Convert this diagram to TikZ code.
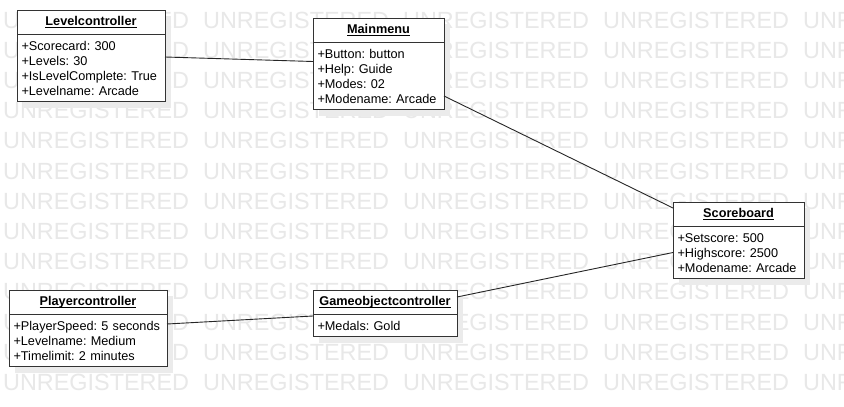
\documentclass[tikz,border=0pt]{standalone}
\usepackage{fontspec}
\setmainfont{Liberation Sans}
\usetikzlibrary{positioning, shadows}
\definecolor{wmgray}{HTML}{E8E8E8}
\definecolor{shadowgray}{HTML}{EBEBEB}
\newcommand{\ulname}[1]{\setbox0\hbox{#1}\rlap{\rule[-2.2pt]{\wd0}{0.9pt}}\box0}
\frenchspacing
\hyphenpenalty=10000
\tikzset{
	objhead/.style={
		rectangle,
		draw=black!80,
		line width=1pt,
		fill=white,
		minimum width=#1,
		minimum height=24.5pt,
		inner sep=0pt,
		outer sep=0pt,
		font=\fontsize{12.7}{15}\selectfont\bfseries,
		drop shadow={shadow xshift=6pt, shadow yshift=-6pt, fill=shadowgray, opacity=1},
	},
	objbody/.style={
		rectangle,
		draw=black!80,
		line width=1pt,
		fill=white,
		text width=#1,
		align=left,
		inner xsep=4.5pt,
		inner ysep=2pt,
		outer sep=0pt,
		font=\fontsize{12.7}{15}\selectfont,
		execute at begin node={\rule{0pt}{13.6pt}},
		execute at end node={\rule[-4.4pt]{0pt}{0pt}},
		drop shadow={shadow xshift=6pt, shadow yshift=-6pt, fill=shadowgray, opacity=1},
	},
	link/.style={
		draw=black!85,
		line width=0.9pt,
	},
	watermark/.style={
		text=wmgray,
		font=\fontsize{23.4}{24}\selectfont,
		anchor=west,
		inner sep=0pt,
	},
}

\begin{document}
\begin{tikzpicture}[x=1pt, y=-1pt]
		\fill[white] (0,0) rectangle (844,407);
		\useasboundingbox (0,0) rectangle (844,407);
		
		% Watermark
		\foreach \row in {0,...,12}
			\foreach \col in {0,...,4}
				\node[watermark] (wm-\row-\col) at ({3+200*\col}, {20+30.2*\row}) {UNREGISTERED};
		
		% Place objects
		\node [objhead=148pt, anchor=north west] (lvl-head) at (17,10) {\ulname{Levelcontroller}};
		\node [objbody=139pt, below=0pt of lvl-head] (lvl-body) {+Scorecard: 300\\+Levels: 30\\+IsLevelComplete: True\\+Levelname: Arcade};
		
		\node [objhead=131pt, anchor=north west] (main-head) at (313,18) {\ulname{Mainmenu}};
		\node [objbody=122pt, below=0pt of main-head] (main-body) {+Button: button\\+Help: Guide\\+Modes: 02\\+Modename: Arcade};
		
		\node [objhead=131pt, anchor=north west] (score-head) at (673,202) {\ulname{Scoreboard}};
		\node [objbody=122pt, below=0pt of score-head] (score-body) {+Setscore: 500\\+Highscore: 2500\\+Modename: Arcade};
		
		\node [objhead=158pt, anchor=north west] (player-head) at (9,290) {\ulname{Playercontroller}};
		\node [objbody=149pt, below=0pt of player-head] (player-body) {+PlayerSpeed: 5 seconds\\+Levelname: Medium\\+Timelimit: 2 minutes};
		
		\node [objhead=144pt, anchor=north west] (game-head) at (313,290) {\ulname{Gameobjectcontroller}};
		\node [objbody=135pt, below=0pt of game-head] (game-body) {+Medals: Gold};
		
		% Links
		\draw [link] ([yshift=11pt]lvl-body.east) -- ([yshift=14.5pt]main-body.west);
		\draw [link] ([yshift=-20pt]main-body.east) -- ([yshift=6.25pt]score-head.west);
		\draw [link] ([yshift=5.25pt]game-head.east) -- (score-body.west);
		\draw [link] ([yshift=16.5pt]player-body.east) -- ([yshift=9.5pt]game-body.west);
		
	\end{tikzpicture}
\end{document}
